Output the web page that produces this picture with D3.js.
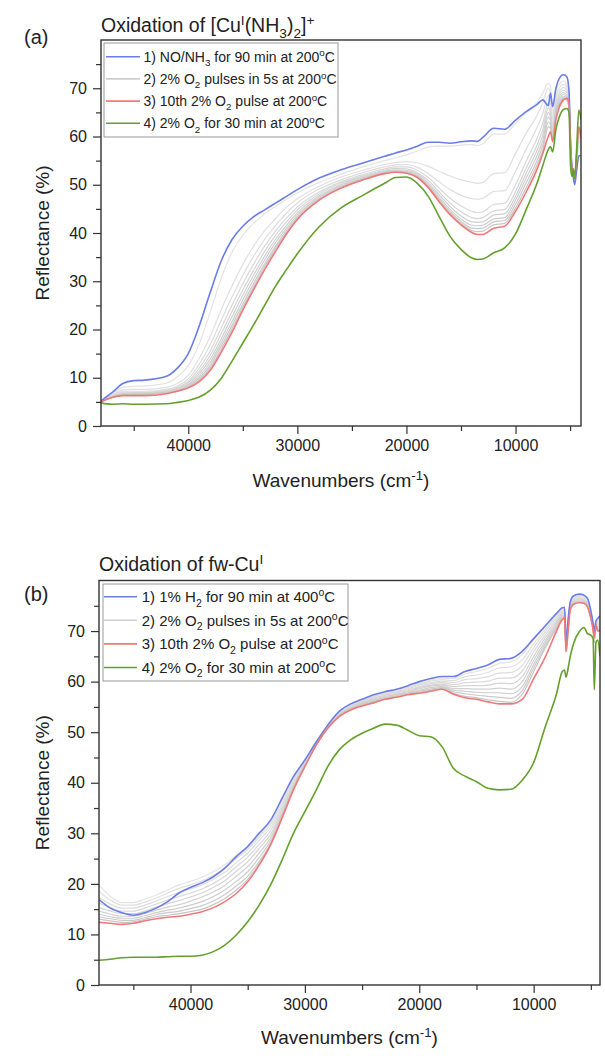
<!DOCTYPE html>
<html>
<head>
<meta charset="utf-8">
<script src="https://cdn.jsdelivr.net/npm/d3@7"></script>
<style>
  body { margin: 0; background: #fff; }
  svg text { font-family: "Liberation Sans", Arial, sans-serif; fill: #222; }
</style>
</head>
<body>
<svg id="chart" width="605" height="1062"></svg>
<script>
// ---- panel (a): [Cu(NH3)2]+ ----
const topWavenumbers = [48000, 47000, 46000, 45000, 44000, 42000, 41000, 40000, 39000, 38000, 37000, 36000, 35000, 34000, 33000, 32000, 31000, 30000, 28000, 26000, 24000, 22000, 21000, 20000, 19000, 18000, 17000, 16000, 15000, 14000, 13500, 13000, 12000, 11000, 10000, 9000, 8000, 7500, 7000, 6800, 6600, 6300, 6000, 5600, 5300, 5100, 4950, 4820, 4700, 4580, 4400, 4200, 4000];

const topStart = [5.2, 6.9, 8.8, 9.4, 9.5, 10.3, 12.0, 15.0, 20.7, 27.6, 34.1, 38.6, 41.4, 43.4, 44.8, 46.2, 47.6, 49.0, 51.4, 53.1, 54.5, 55.9, 56.6, 57.2, 58.0, 58.8, 58.8, 58.6, 58.9, 59.1, 59.0, 59.8, 61.7, 61.5, 63.4, 65.2, 66.7, 67.6, 66.4, 69.0, 66.2, 70.0, 72.0, 72.8, 72.4, 69.5, 58.0, 53.5, 51.5, 50.0, 53.0, 56.0, 56.0];

const topPulses = [
  [5.2, 6.6, 8.0, 8.2, 8.3, 8.9, 10.2, 12.5, 17.0, 23.5, 30.5, 36.0, 39.5, 42.0, 44.0, 45.5, 47.0, 48.3, 50.5, 52.2, 53.7, 55.0, 55.6, 56.2, 57.0, 57.8, 58.0, 58.0, 58.2, 58.3, 58.1, 58.5, 60.5, 60.5, 62.7, 65.0, 67.2, 69.0, 71.0, 70.5, 64.5, 69.5, 70.8, 71.5, 70.8, 67.5, 57.0, 53.0, 51.8, 50.8, 54.0, 58.0, 57.0],
  [5.1, 6.4, 7.5, 7.6, 7.6, 8.0, 8.8, 10.5, 14.0, 18.5, 24.0, 29.0, 33.5, 37.3, 40.5, 43.0, 45.3, 47.1, 49.7, 51.6, 53.0, 54.2, 54.6, 54.8, 54.5, 53.8, 52.8, 51.8, 51.0, 50.5, 50.3, 50.5, 52.3, 52.5, 56.5, 60.8, 64.5, 67.0, 70.0, 69.0, 63.5, 68.5, 70.0, 70.8, 70.2, 67.2, 57.0, 53.0, 52.0, 51.0, 54.5, 59.0, 58.0],
  [5.1, 6.3, 7.2, 7.2, 7.2, 7.6, 8.3, 9.8, 12.8, 16.8, 21.8, 26.7, 31.2, 35.2, 38.7, 41.6, 44.1, 46.2, 49.1, 51.0, 52.5, 53.7, 54.1, 54.2, 53.6, 52.3, 50.6, 49.0, 47.8, 47.1, 47.0, 47.2, 48.6, 48.8, 52.8, 57.5, 62.0, 64.8, 68.5, 67.5, 62.5, 67.8, 69.3, 70.2, 69.6, 67.0, 57.2, 53.0, 52.2, 51.2, 55.0, 60.0, 58.5],
  [5.1, 6.2, 7.0, 7.0, 7.0, 7.4, 8.0, 9.3, 12.0, 15.5, 20.2, 25.0, 29.5, 33.6, 37.3, 40.4, 43.1, 45.4, 48.5, 50.6, 52.1, 53.3, 53.7, 53.7, 53.0, 51.5, 49.3, 47.2, 45.6, 44.5, 44.2, 44.4, 45.9, 46.2, 50.0, 55.0, 59.8, 62.8, 67.0, 66.0, 61.8, 67.0, 68.7, 69.6, 69.1, 66.8, 57.3, 53.0, 52.3, 51.3, 55.2, 60.5, 59.0],
  [5.0, 6.1, 6.8, 6.9, 6.9, 7.2, 7.8, 9.0, 11.3, 14.6, 19.0, 23.7, 28.2, 32.3, 36.2, 39.5, 42.3, 44.8, 48.1, 50.3, 51.8, 53.0, 53.4, 53.3, 52.5, 50.9, 48.5, 46.2, 44.4, 43.2, 43.0, 43.2, 44.6, 44.9, 48.6, 53.6, 58.4, 61.5, 66.0, 65.0, 61.0, 66.5, 68.2, 69.1, 68.6, 66.6, 57.4, 53.0, 52.3, 51.3, 55.4, 61.0, 59.3],
  [5.0, 6.0, 6.7, 6.8, 6.8, 7.1, 7.6, 8.7, 10.8, 13.8, 18.0, 22.6, 27.1, 31.3, 35.2, 38.7, 41.6, 44.2, 47.7, 50.0, 51.6, 52.8, 53.1, 53.0, 52.2, 50.4, 47.9, 45.5, 43.5, 42.3, 42.2, 42.3, 43.7, 44.0, 47.6, 52.5, 57.3, 60.3, 65.0, 64.0, 60.5, 66.0, 67.7, 68.7, 68.2, 66.4, 57.5, 53.0, 52.4, 51.4, 55.6, 61.3, 59.5],
  [5.0, 6.0, 6.6, 6.7, 6.7, 7.0, 7.4, 8.5, 10.3, 13.1, 17.2, 21.6, 26.1, 30.4, 34.4, 38.0, 41.0, 43.7, 47.4, 49.8, 51.4, 52.6, 52.9, 52.8, 51.9, 50.0, 47.4, 44.9, 42.9, 41.6, 41.5, 41.6, 42.9, 43.2, 46.8, 51.5, 56.2, 59.2, 64.0, 63.2, 60.0, 65.5, 67.2, 68.3, 67.9, 66.2, 57.6, 53.0, 52.4, 51.4, 55.8, 61.5, 59.7],
  [5.0, 5.9, 6.5, 6.6, 6.6, 6.9, 7.3, 8.3, 9.9, 12.5, 16.5, 20.8, 25.3, 29.6, 33.6, 37.3, 40.5, 43.3, 47.1, 49.6, 51.2, 52.5, 52.8, 52.6, 51.7, 49.7, 47.0, 44.4, 42.4, 41.0, 40.9, 41.0, 42.3, 42.6, 46.0, 50.5, 55.2, 58.2, 63.0, 62.5, 59.7, 65.1, 66.8, 68.0, 67.7, 66.0, 57.7, 53.0, 52.4, 51.4, 55.9, 61.7, 59.8],
  [5.0, 5.9, 6.4, 6.5, 6.5, 6.8, 7.2, 8.1, 9.5, 12.0, 15.8, 20.1, 24.6, 28.9, 33.0, 36.8, 40.1, 43.0, 46.9, 49.4, 51.1, 52.4, 52.7, 52.5, 51.6, 49.5, 46.7, 44.0, 42.0, 40.5, 40.3, 40.4, 41.7, 42.0, 45.2, 49.5, 54.3, 57.2, 62.0, 61.8, 59.5, 64.8, 66.5, 67.8, 67.5, 65.8, 57.8, 53.0, 52.4, 51.4, 56.0, 61.8, 59.9]
];

const topTenth = [5.0, 5.9, 6.3, 6.3, 6.3, 6.7, 7.2, 7.9, 9.2, 11.5, 15.2, 19.4, 24.0, 28.3, 32.4, 36.2, 39.8, 42.8, 46.8, 49.3, 51.0, 52.3, 52.6, 52.4, 51.5, 49.4, 46.5, 43.8, 41.7, 40.1, 39.7, 39.7, 41.0, 41.4, 44.5, 48.6, 53.4, 56.5, 60.0, 61.0, 58.9, 63.5, 66.0, 67.6, 67.9, 67.0, 58.0, 53.0, 52.5, 51.5, 56.0, 62.0, 60.0];

const topFinal = [4.8, 4.5, 4.6, 4.5, 4.5, 4.6, 4.9, 5.3, 6.0, 7.4, 9.8, 13.4, 17.2, 21.0, 25.0, 29.0, 32.4, 35.7, 41.3, 45.2, 47.8, 50.3, 51.5, 51.6, 50.3, 47.6, 43.4, 39.3, 36.6, 34.8, 34.5, 34.6, 35.9, 36.9, 39.8, 45.0, 50.5, 54.0, 57.3, 57.9, 56.8, 61.5, 64.0, 65.6, 65.8, 65.0, 53.7, 51.7, 53.3, 51.3, 57.4, 65.5, 63.5];

// ---- panel (b): fw-Cu ----
const botWavenumbers = [48000, 47000, 46000, 45000, 44000, 43000, 42000, 41000, 40000, 39000, 38000, 37000, 36000, 35000, 34000, 33000, 32000, 31000, 30000, 29000, 28000, 27000, 26000, 25000, 24000, 23000, 22000, 21000, 20000, 19000, 18000, 17000, 16000, 15000, 14000, 13000, 12000, 11000, 10000, 9000, 8000, 7500, 7300, 7170, 7000, 6800, 6500, 6000, 5600, 5300, 5000, 4800, 4700, 4550, 4400, 4200];

const botStart = [16.9, 15.2, 14.3, 13.8, 14.3, 15.2, 16.5, 18.2, 19.3, 20.2, 21.4, 23.1, 25.4, 27.4, 30.0, 32.6, 36.9, 41.2, 44.5, 48.1, 51.4, 54.1, 55.6, 56.5, 57.4, 58.0, 58.5, 59.2, 60.0, 60.6, 61.0, 61.0, 62.0, 62.6, 63.3, 64.4, 64.6, 66.0, 68.5, 71.0, 73.5, 74.6, 74.7, 67.7, 72.0, 75.8, 77.0, 77.3, 77.1, 76.5, 74.0, 71.5, 69.9, 72.0, 72.5, 73.0];

const botPulses = [
  [19.8, 17.5, 16.3, 16.3, 17.0, 17.8, 18.8, 19.8, 20.5, 21.3, 22.4, 23.8, 25.6, 27.2, 29.6, 32.2, 36.5, 40.9, 44.3, 47.9, 51.2, 53.9, 55.4, 56.3, 57.2, 57.8, 58.3, 59.0, 59.7, 60.3, 60.7, 60.6, 61.5, 62.0, 62.6, 63.6, 63.9, 65.4, 68.3, 70.8, 73.2, 74.4, 74.5, 67.5, 71.8, 75.6, 76.8, 77.0, 76.7, 76.2, 73.8, 71.3, 69.6, 71.8, 72.3, 72.8],
  [18.5, 16.8, 15.8, 15.8, 16.4, 17.2, 18.2, 19.1, 19.8, 20.6, 21.7, 23.1, 25.0, 26.8, 29.2, 31.8, 36.1, 40.6, 44.1, 47.8, 51.1, 53.8, 55.3, 56.2, 57.1, 57.7, 58.2, 58.8, 59.5, 60.1, 60.4, 60.2, 61.0, 61.3, 61.8, 62.7, 62.9, 64.3, 67.5, 70.3, 72.9, 74.2, 74.3, 67.3, 71.6, 75.4, 76.6, 76.8, 76.5, 76.0, 73.6, 71.1, 69.3, 71.7, 72.1, 72.5],
  [17.3, 16.0, 15.2, 15.2, 15.8, 16.6, 17.5, 18.3, 19.0, 19.8, 20.9, 22.3, 24.2, 26.1, 28.6, 31.2, 35.6, 40.3, 44.0, 47.7, 51.1, 53.7, 55.2, 56.1, 57.0, 57.6, 58.0, 58.6, 59.3, 59.8, 60.1, 59.8, 60.4, 60.6, 61.0, 61.7, 61.8, 63.2, 66.7, 69.8, 72.6, 74.0, 74.1, 67.1, 71.3, 75.2, 76.4, 76.6, 76.3, 75.8, 73.4, 70.9, 69.0, 71.6, 71.8, 72.1],
  [16.2, 15.3, 14.6, 14.6, 15.2, 16.0, 16.8, 17.5, 18.2, 19.0, 20.1, 21.5, 23.4, 25.3, 27.8, 30.5, 35.1, 39.9, 43.8, 47.7, 51.0, 53.6, 55.1, 56.0, 56.8, 57.4, 57.9, 58.4, 59.0, 59.6, 59.8, 59.4, 59.8, 59.9, 60.1, 60.7, 60.7, 62.1, 65.9, 69.2, 72.2, 73.7, 73.8, 66.9, 71.0, 75.0, 76.2, 76.4, 76.1, 75.6, 73.2, 70.8, 68.7, 71.5, 71.5, 71.7],
  [15.3, 14.6, 14.1, 14.1, 14.6, 15.4, 16.1, 16.7, 17.4, 18.2, 19.3, 20.6, 22.5, 24.4, 27.0, 29.8, 34.6, 39.6, 43.7, 47.6, 51.0, 53.5, 55.0, 55.9, 56.7, 57.3, 57.7, 58.2, 58.8, 59.3, 59.5, 59.0, 59.2, 59.2, 59.3, 59.7, 59.6, 61.0, 65.0, 68.6, 71.8, 73.4, 73.5, 66.7, 70.7, 74.8, 76.0, 76.2, 76.0, 75.4, 73.1, 70.6, 68.4, 71.4, 71.2, 71.3],
  [14.6, 14.0, 13.6, 13.6, 14.1, 14.8, 15.4, 15.9, 16.6, 17.4, 18.4, 19.7, 21.5, 23.4, 26.1, 29.1, 34.1, 39.3, 43.6, 47.6, 50.9, 53.4, 54.9, 55.7, 56.5, 57.1, 57.5, 58.0, 58.6, 59.1, 59.3, 58.6, 58.6, 58.5, 58.5, 58.7, 58.5, 60.0, 64.2, 68.0, 71.5, 73.1, 73.2, 66.5, 70.5, 74.7, 75.8, 76.0, 75.9, 75.3, 73.0, 70.5, 68.2, 71.3, 70.9, 70.9],
  [14.0, 13.5, 13.2, 13.2, 13.7, 14.3, 14.8, 15.2, 15.8, 16.5, 17.5, 18.8, 20.5, 22.4, 25.2, 28.5, 33.7, 39.1, 43.5, 47.6, 50.9, 53.3, 54.7, 55.6, 56.3, 56.9, 57.4, 57.8, 58.3, 58.8, 59.0, 58.3, 58.1, 57.9, 57.8, 57.8, 57.6, 59.0, 63.4, 67.5, 71.1, 72.8, 72.9, 66.3, 70.2, 74.5, 75.7, 75.9, 75.8, 75.1, 72.8, 70.4, 68.0, 71.3, 70.6, 70.6],
  [13.5, 13.1, 12.8, 12.8, 13.3, 13.9, 14.3, 14.6, 15.1, 15.7, 16.6, 17.9, 19.6, 21.5, 24.4, 28.0, 33.4, 38.9, 43.4, 47.5, 50.9, 53.2, 54.6, 55.4, 56.1, 56.7, 57.2, 57.7, 58.1, 58.5, 58.8, 58.0, 57.6, 57.3, 57.1, 56.9, 56.7, 58.2, 62.7, 67.0, 70.8, 72.5, 72.6, 66.1, 70.0, 74.4, 75.5, 75.8, 75.7, 75.0, 72.7, 70.3, 67.8, 71.2, 70.3, 70.3],
  [13.0, 12.7, 12.4, 12.5, 13.0, 13.5, 13.8, 14.1, 14.5, 15.0, 15.9, 17.1, 18.8, 20.9, 23.9, 27.8, 33.2, 38.8, 43.3, 47.5, 50.8, 53.2, 54.5, 55.3, 55.9, 56.6, 57.0, 57.5, 57.9, 58.3, 58.6, 57.7, 57.1, 56.8, 56.4, 56.1, 55.9, 57.5, 62.0, 66.6, 70.5, 72.2, 72.4, 66.0, 69.8, 74.3, 75.4, 75.7, 75.6, 74.9, 72.6, 70.2, 67.7, 71.2, 70.1, 70.1]
];

const botTenth = [12.4, 12.2, 12.0, 12.2, 12.7, 13.1, 13.4, 13.6, 14.0, 14.5, 15.3, 16.5, 18.1, 20.4, 23.7, 27.7, 33.0, 38.6, 43.2, 47.5, 50.8, 53.1, 54.4, 55.2, 55.8, 56.5, 56.9, 57.4, 57.7, 58.1, 58.5, 57.5, 56.8, 56.5, 56.0, 55.6, 55.6, 56.5, 60.6, 64.8, 70.0, 72.3, 72.6, 65.9, 69.6, 74.2, 75.3, 75.6, 75.5, 74.8, 72.5, 70.2, 68.8, 71.2, 70.0, 70.0];

const botFinal = [4.9, 5.1, 5.4, 5.5, 5.5, 5.5, 5.6, 5.7, 5.7, 5.9, 6.6, 7.9, 9.9, 12.5, 15.8, 19.8, 24.7, 30.0, 34.3, 38.6, 43.2, 46.5, 48.5, 49.8, 50.8, 51.6, 51.4, 50.4, 49.3, 49.1, 47.1, 42.8, 41.3, 40.2, 38.9, 38.6, 38.7, 40.5, 44.0, 51.0, 57.6, 62.0, 62.3, 60.9, 62.5, 65.0, 67.6, 69.9, 70.7, 69.5, 69.2, 68.5, 58.4, 67.8, 68.2, 65.0];

// ticks and labels
const xMajor = [40000, 30000, 20000, 10000];
const xMinor = [45000, 35000, 25000, 15000, 5000];
const yMajor = [0, 10, 20, 30, 40, 50, 60, 70];
const yMinor = [5, 15, 25, 35, 45, 55, 65, 75];

const topTitle = [['Oxidation of [Cu'], ['I', 'sup'], ['(NH'], ['3', 'sub'], [')'], ['2', 'sub'], [']'], ['+', 'sup']];
const botTitle = [['Oxidation of fw-Cu'], ['I', 'sup']];
const topLegend = [
  [['1) NO/NH'], ['3', 'sub'], [' for 90 min at 200'], ['o', 'sup'], ['C']],
  [['2) 2% O'], ['2', 'sub'], [' pulses in 5s at 200'], ['o', 'sup'], ['C']],
  [['3) 10th 2% O'], ['2', 'sub'], [' pulse at 200'], ['o', 'sup'], ['C']],
  [['4) 2% O'], ['2', 'sub'], [' for 30 min at 200'], ['o', 'sup'], ['C']]
];
const botLegend = [
  [['1) 1% H'], ['2', 'sub'], [' for 90 min at 400'], ['o', 'sup'], ['C']],
  topLegend[1], topLegend[2], topLegend[3]
];

const colors = { start: '#6b7de6', pulse: '#cfcfcf', tenth: '#f27878', final: '#64a02c' };

const svg = d3.select('#chart');

// text with sub/superscripts
function rich(sel, parts, size) {
  let shift = 0;
  parts.forEach(([t, kind]) => {
    const target = kind === 'sub' ? size * 0.3 : kind === 'sup' ? -size * 0.38 : 0;
    sel.append('tspan')
      .attr('dy', target - shift)
      .style('font-size', kind ? (size * 0.7) + 'px' : size + 'px')
      .text(t);
    shift = target;
  });
}

const panels = [
  { wn: topWavenumbers, start: topStart, pulses: topPulses, tenth: topTenth, final: topFinal,
    xr: [101, 581], yr: [426, 40], dom: [48000, 4000],
    title: topTitle, titleY: 32, tag: '(a)', tagY: 44,
    legend: topLegend, lg: { x: 104, y: 43, w: 234, h: 94, row0: 56.7, step: 22.2, lx0: 106, lx1: 140, tx: 143.5, fs: 14 },
    xTitleY: 487 },
  { wn: botWavenumbers, start: botStart, pulses: botPulses, tenth: botTenth, final: botFinal,
    xr: [99, 600], yr: [985, 580.5], dom: [48000, 4200],
    title: botTitle, titleY: 571, tag: '(b)', tagY: 601,
    legend: botLegend, lg: { x: 103, y: 584, w: 245, h: 97, row0: 596.7, step: 23.6, lx0: 104, lx1: 137, tx: 141.7, fs: 15 },
    xTitleY: 1044 }
];

panels.forEach(p => {
  const x = d3.scaleLinear().domain(p.dom).range(p.xr);
  const y = d3.scaleLinear().domain([0, 80]).range(p.yr);
  const g = svg.append('g');

  const clipId = 'clip' + p.tag.replace(/\W/g, '');
  g.append('clipPath').attr('id', clipId).append('rect')
    .attr('x', p.xr[0]).attr('y', p.yr[1]).attr('width', p.xr[1] - p.xr[0]).attr('height', p.yr[0] - p.yr[1]);

  const line = d3.line()
    .x((d, i) => x(p.wn[i]))
    .y(d => y(d))
    .curve(d3.curveMonotoneX);

  const plot = g.append('g').attr('clip-path', `url(#${clipId})`);
  const grayScale = d3.scaleLinear().domain([0, p.pulses.length - 1]).range(['#e4e4e4', '#c6c6c6']);
  p.pulses.forEach((s, i) => {
    plot.append('path').attr('d', line(s)).attr('fill', 'none')
      .attr('stroke', grayScale(i)).attr('stroke-width', 1.2);
  });
  plot.append('path').attr('d', line(p.start)).attr('fill', 'none').attr('stroke', colors.start).attr('stroke-width', 1.6);
  plot.append('path').attr('d', line(p.tenth)).attr('fill', 'none').attr('stroke', colors.tenth).attr('stroke-width', 1.6);
  plot.append('path').attr('d', line(p.final)).attr('fill', 'none').attr('stroke', colors.final).attr('stroke-width', 1.6);

  // axes
  const styleAxis = a => {
    a.select('.domain').remove();
    a.selectAll('line').attr('stroke', '#333').attr('stroke-width', 1.2);
    a.selectAll('text').attr('fill', '#222');
    a.attr('font-size', 16).attr('font-family', '"Liberation Sans", Arial, sans-serif');
  };
  g.append('g').attr('transform', `translate(0,${p.yr[0]})`)
    .call(d3.axisBottom(x).tickValues(xMajor).tickFormat(d3.format('d')).tickSize(8).tickPadding(6)).call(styleAxis);
  g.append('g').attr('transform', `translate(0,${p.yr[0]})`)
    .call(d3.axisBottom(x).tickValues(xMinor).tickFormat('').tickSize(5)).call(styleAxis);
  g.append('g').attr('transform', `translate(${p.xr[0]},0)`)
    .call(d3.axisLeft(y).tickValues(yMajor).tickSize(8).tickPadding(6)).call(styleAxis);
  g.append('g').attr('transform', `translate(${p.xr[0]},0)`)
    .call(d3.axisLeft(y).tickValues(yMinor).tickFormat('').tickSize(5)).call(styleAxis);

  g.append('rect')
    .attr('x', p.xr[0]).attr('y', p.yr[1])
    .attr('width', p.xr[1] - p.xr[0]).attr('height', p.yr[0] - p.yr[1])
    .attr('fill', 'none').attr('stroke', '#333').attr('stroke-width', 1.4);

  // titles
  rich(g.append('text').attr('x', p.xr[0]).attr('y', p.titleY), p.title, 19.5);
  g.append('text').attr('x', 24).attr('y', p.tagY).style('font-size', '20px').text(p.tag);

  g.append('text')
    .attr('transform', `translate(49,${(p.yr[0] + p.yr[1]) / 2}) rotate(-90)`)
    .attr('text-anchor', 'middle').style('font-size', '19px')
    .text('Reflectance (%)');

  rich(g.append('text').attr('x', (p.xr[0] + p.xr[1]) / 2).attr('y', p.xTitleY).attr('text-anchor', 'middle'),
    [['Wavenumbers (cm'], ['-1', 'sup'], [')']], 19);

  // legend
  const lg = p.lg;
  g.append('rect').attr('x', lg.x).attr('y', lg.y).attr('width', lg.w).attr('height', lg.h)
    .attr('fill', '#fff').attr('stroke', '#999').attr('stroke-width', 1);
  const legColors = [colors.start, colors.pulse, colors.tenth, colors.final];
  p.legend.forEach((parts, i) => {
    const cy = lg.row0 + i * lg.step;
    g.append('line').attr('x1', lg.lx0).attr('x2', lg.lx1).attr('y1', cy).attr('y2', cy)
      .attr('stroke', legColors[i]).attr('stroke-width', 1.6);
    rich(g.append('text').attr('x', lg.tx).attr('y', cy + lg.fs * 0.36), parts, lg.fs);
  });
});
</script>
</body>
</html>
